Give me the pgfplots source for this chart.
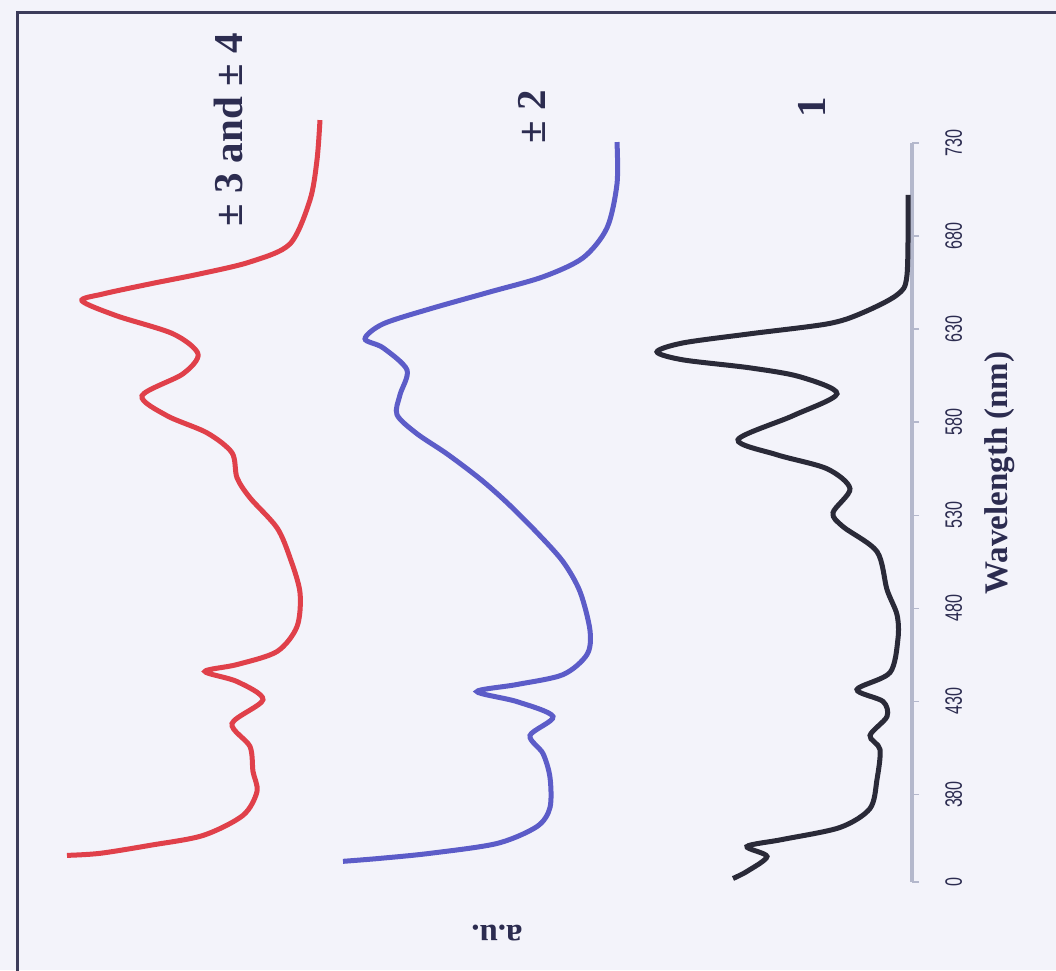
\documentclass[border=0pt]{standalone}
\usepackage{fontspec}
\setmainfont{Liberation Serif}
\newfontfamily\tickfont[FakeStretch=0.68]{Liberation Sans}
\usepackage{pgfplots}
\pgfplotsset{compat=1.18}
\definecolor{bg}{HTML}{F3F3FA}
\definecolor{framec}{HTML}{3C3C5A}
\definecolor{axisgray}{HTML}{B4B8CC}
\definecolor{txt}{HTML}{2C2C50}
\definecolor{cblack}{HTML}{2A2A38}
\definecolor{cblue}{HTML}{5C5CC8}
\definecolor{cred}{HTML}{E0404A}
\begin{document}
\begin{tikzpicture}
\fill[bg] (0pt,0pt) rectangle (1056pt,970pt);
\useasboundingbox (0pt,0pt) rectangle (1056pt,970pt);
\draw[framec, line width=3pt] (17pt,-5pt) -- (17pt,957pt) -- (1061pt,957pt);
\begin{axis}[
  at={(464.5pt,457.5pt)}, anchor=center,
  scale only axis, width=895pt, height=739pt,
  xmin=0, xmax=895, ymin=333, ymax=730,
  x dir=reverse, clip=false,
  axis y line=right, axis x line=none,
  axis line style={-, draw=axisgray, line width=3.5pt},
  ytick={333,380,430,480,530,580,630,680,730},
  yticklabels={0,380,430,480,530,580,630,680,730},
  tick align=outside, major tick length=7pt,
  tick style={draw=axisgray, line width=1.5pt},
  yticklabel style={rotate=90, anchor=north, inner sep=0pt, font=\tickfont\fontsize{23.7}{24}\selectfont, text=txt},
  yticklabel shift=26pt,
  ylabel={Wavelength (nm)},
  every axis y label/.style={at={(axis description cs:1.0983,0.5535)}, anchor=center, rotate=90, font=\bfseries\fontsize{33}{33}\selectfont, text=txt},
]
\addplot[cred, line width=5pt, smooth, tension=0.5] coordinates {
(592,742.3) (595,720.9) (602,699.4) (622,675.8) (662,666.1) (712,659.7) (762,654.3) (809,648.9) (830,645.2)
(795,637.1) (739,627.5) (714,616.7) (729,606.0) (770,594.2) (745,583.5) (705,574.3) (680,563.6) (675,550.2)
(662,539.4) (635,523.3) (622,507.2) (612,488.5) (615,470.2) (635,456.8) (675,449.8) (707,446.1) (675,440.7)
(649,431.0) (680,418.1) (662,405.8) (659,392.4) (655,381.6) (669,368.8) (709,358.0) (762,352.7) (812,348.4) (845,347.3)
};
\addplot[cblue, line width=5pt, smooth, tension=0.5] coordinates {
(295,730.5) (295,708.0) (305,684.4) (329,668.3) (369,658.1) (422,650.0) (482,640.9) (529,632.8) (547,624.8)
(529,620.0) (505,608.1) (512,594.7) (515,584.0) (495,573.8) (465,563.0) (432,549.6) (405,536.8) (375,520.7)
(349,505.1) (332,489.0) (322,468.1) (325,455.2) (349,444.4) (395,439.1) (435,435.3) (395,429.9) (359,421.9)
(382,411.7) (369,402.0) (362,389.2) (362,373.0) (375,362.8) (415,353.7) (482,348.4) (532,345.7) (569,344.1)
};
\addplot[cblack, line width=5pt, smooth, tension=0.5] coordinates {
(4,702.1) (5,659.1) (15,648.4) (52,638.2) (85,632.8) (162,627.5) (229,622.6) (255,617.8) (229,613.5)
(162,609.2) (112,604.4) (75,595.3) (119,583.5) (174,570.6) (135,562.5) (85,555.0) (62,544.3) (79,531.4)
(69,523.9) (35,510.5) (25,490.1) (15,476.6) (14,463.8) (22,445.5) (55,436.4) (29,430.0) (25,421.9)
(42,411.7) (32,404.2) (35,388.1) (42,372.5) (72,362.3) (129,355.9) (165,352.1) (145,346.7) (165,338.7) (179,334.9)
};
\end{axis}
\node[rotate=90, text=txt, font=\bfseries\fontsize{41}{41}\selectfont] at (228pt,840pt) {± 3 and ± 4};
\node[rotate=90, text=txt, font=\bfseries\fontsize{41}{41}\selectfont] at (532pt,853pt) {± 2};
\node[rotate=90, text=txt, font=\bfseries\fontsize{41}{41}\selectfont] at (812pt,863pt) {1};
\node[rotate=180, text=txt, font=\bfseries\fontsize{33}{33}\selectfont] at (497pt,37pt) {a.u.};
\end{tikzpicture}
\end{document}
